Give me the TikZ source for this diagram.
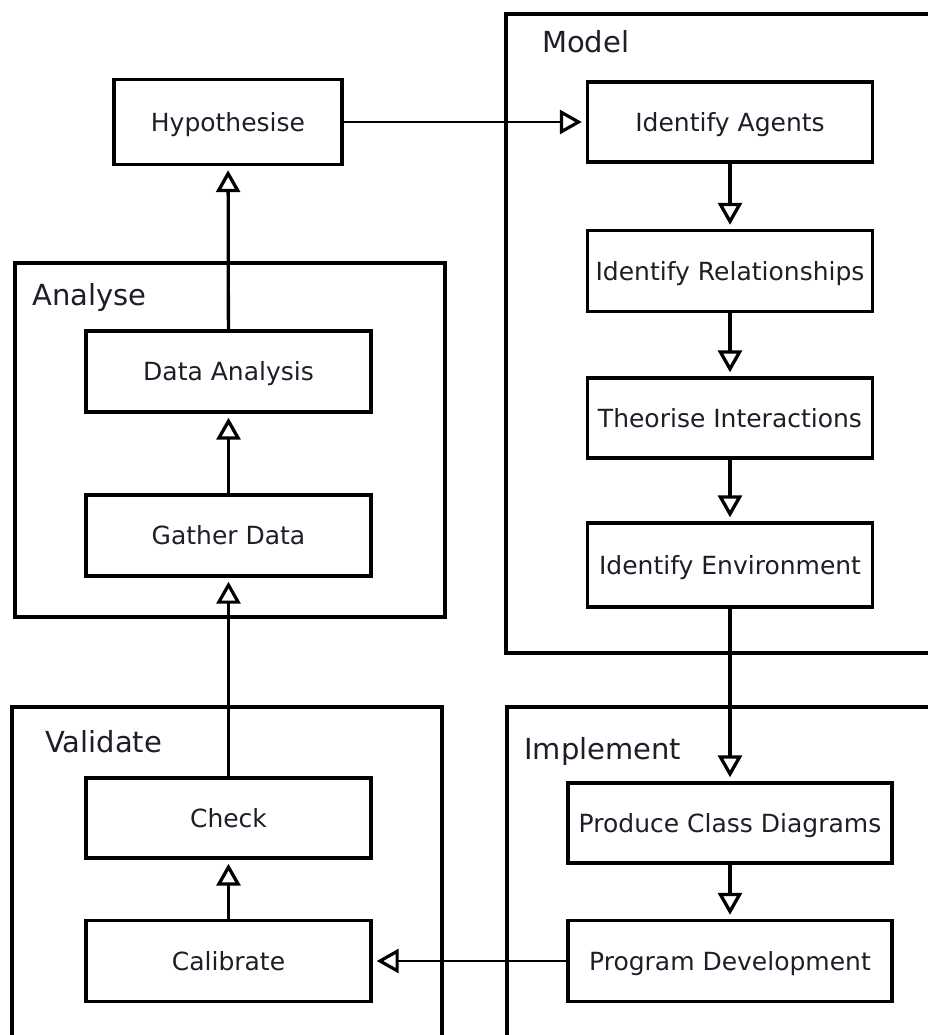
\documentclass[tikz,border=0pt]{standalone}
\usepackage{fontspec}
\setmainfont{DejaVu Sans}
\usetikzlibrary{arrows.meta}
\definecolor{txt}{RGB}{30,30,40}
\begin{document}
\begin{tikzpicture}[x=1pt,y=-1pt,
  stepbox/.style={draw=black,line width=3.4pt,fill=white,inner sep=0pt,
    minimum height=81pt,text height=18.2pt,text depth=0pt,text=txt,
    font=\fontsize{25}{30}\selectfont},
  leftbox/.style={stepbox,minimum width=285pt},
  rightbox/.style={stepbox,minimum width=285pt},
  implbox/.style={stepbox,minimum width=324pt},
  group/.style={draw=black,line width=3.4pt},
  grouplabel/.style={anchor=base west,inner sep=0pt,text=txt,font=\fontsize{29}{34}\selectfont},
  thickarrow/.style={line width=3.3pt,-{Triangle[open,length=22pt,width=24pt]},shorten >=4pt},
  thinarrow/.style={line width=2.5pt,-{Triangle[open,length=22pt,width=24pt,line width=3.2pt]},shorten >=4pt}
]
\useasboundingbox (0,0) rectangle (928,1035);
\fill[white] (0,0) rectangle (928,1035);

% group frames
\draw[group] (506,14) rectangle (940,653);
\draw[group] (15,263) rectangle (445,617);
\draw[group] (12,707) rectangle (442,1045);
\draw[group] (507,707) rectangle (940,1045);

\node[grouplabel] (lmodel) at (542,53) {Model};
\node[grouplabel] (lanalyse) at (32,305) {Analyse};
\node[grouplabel] (lvalidate) at (45,752) {Validate};
\node[grouplabel] (limplement) at (524,759) {Implement};

% step boxes
\node[stepbox,minimum width=228pt,minimum height=85pt] (hyp) at (228,122) {Hypothesise};
\node[rightbox,minimum height=80pt] (ia) at (730,122) {Identify Agents};
\node[rightbox] (ir) at (730,271) {Identify Relationships};
\node[rightbox,minimum height=80pt] (ti) at (730,418) {Theorise Interactions};
\node[rightbox,minimum height=84pt] (ie) at (730,565) {Identify Environment};
\node[leftbox] (da) at (228.5,371.5) {Data Analysis};
\node[leftbox] (gd) at (228.5,535.5) {Gather Data};
\node[leftbox,minimum height=80pt] (ck) at (228.5,818) {Check};
\node[leftbox] (cal) at (228.5,961) {Calibrate};
\node[implbox,minimum height=80pt] (pcd) at (730,823) {Produce Class Diagrams};
\node[implbox] (pd) at (730,961) {Program Development};

% connectors
\draw[thickarrow] (da) -- (hyp);
\draw[thinarrow] (hyp) -- (ia);
\draw[thickarrow] (ia) -- (ir);
\draw[thickarrow] (ir) -- (ti);
\draw[thickarrow] (ti) -- (ie);
\draw[thickarrow] (ie) -- (pcd);
\draw[thickarrow] (pcd) -- (pd);
\draw[thinarrow] (pd) -- (cal);
\draw[thickarrow] (gd) -- (da);
\draw[thinarrow] (ck) -- (gd);
\draw[thickarrow] (cal) -- (ck);
\end{tikzpicture}
\end{document}
